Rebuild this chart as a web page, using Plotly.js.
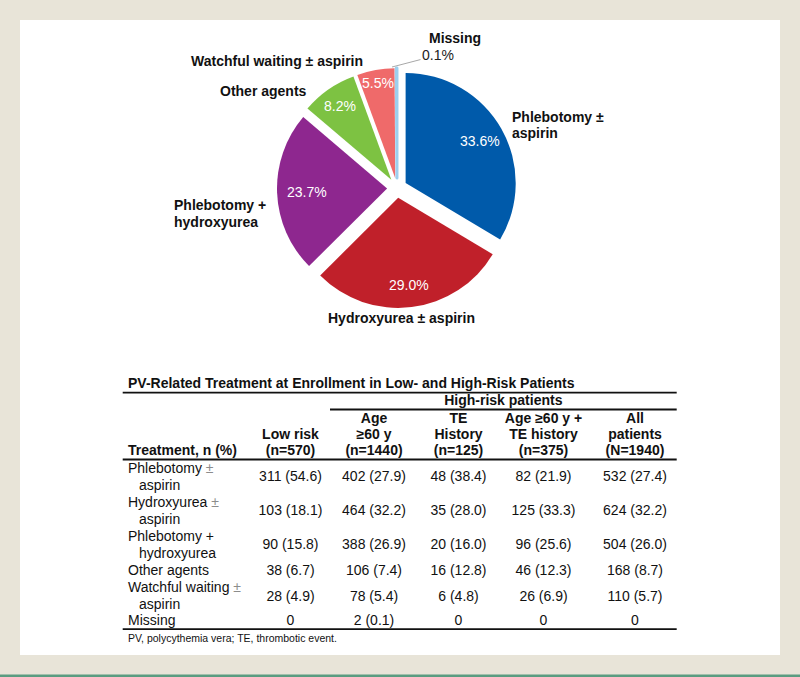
<!DOCTYPE html>
<html>
<head>
<meta charset="utf-8">
<script src="https://cdn.plot.ly/plotly-3.0.1.min.js"></script>
<style>html,body{margin:0;padding:0;background:#e8e4d8;}</style>
</head>
<body>
<div id="chart" style="width:800px;height:677px;"></div>
<script>
// ---------- DATA ----------
const pieLabels = ['Phlebotomy ±\naspirin', 'Hydroxyurea ± aspirin', 'Phlebotomy +\nhydroxyurea', 'Other agents', 'Watchful waiting ± aspirin', 'Missing'];
const piePercents = [33.6, 29.0, 23.7, 8.2, 5.5, 0.1];

const tableTitle = 'PV-Related Treatment at Enrollment in Low- and High-Risk Patients';
const groupHeader = 'High-risk patients';
const columnHeaders = ['Treatment, n (%)', 'Low risk\n(n=570)', 'Age\n≥60 y\n(n=1440)', 'TE\nHistory\n(n=125)', 'Age ≥60 y +\nTE history\n(n=375)', 'All\npatients\n(N=1940)'];
const treatments = ['Phlebotomy ±\naspirin', 'Hydroxyurea ±\naspirin', 'Phlebotomy +\nhydroxyurea', 'Other agents', 'Watchful waiting ±\naspirin', 'Missing'];
const lowRisk = ['311 (54.6)', '103 (18.1)', '90 (15.8)', '38 (6.7)', '28 (4.9)', '0'];
const age60 = ['402 (27.9)', '464 (32.2)', '388 (26.9)', '106 (7.4)', '78 (5.4)', '2 (0.1)'];
const teHistory = ['48 (38.4)', '35 (28.0)', '20 (16.0)', '16 (12.8)', '6 (4.8)', '0'];
const age60Te = ['82 (21.9)', '125 (33.3)', '96 (25.6)', '46 (12.3)', '26 (6.9)', '0'];
const allPatients = ['532 (27.4)', '624 (32.2)', '504 (26.0)', '168 (8.7)', '110 (5.7)', '0'];
const footnote = 'PV, polycythemia vera; TE, thrombotic event.';

// ---------- STYLE / LAYOUT ----------
const FONT = 'Liberation Sans, Arial, Helvetica, sans-serif';
const TXT = '#111111';
const pieColors = ['#005aaa', '#c0202a', '#8e278f', '#7dc242', '#ef6a6a', '#9dcfee'];

const W = 800, H = 677;
// pie box in pixels
const pieBox = {x0: 277, x1: 517, y0: 68, y1: 308};
const PULL = 0.09;
// radial position (fraction of radius) of the inside percentage labels
const pctRadius = [0.78, 0.8, 0.73, 0.82, 0.88];

// pie label placement (pixel coords of the figure) and anchors
const pieLabelPos = [
  {x: 510, y: 125, anchor: 'left'},
  {x: 401, y: 318, anchor: 'center'},
  {x: 172, y: 213.5, anchor: 'left'},
  {x: 309, y: 91, anchor: 'right'},
  {x: 365, y: 61, anchor: 'right'},
  {x: 427, y: 37.5, anchor: 'left'}
];

// table geometry
const colX = [128, 290.5, 374, 458.5, 543.5, 635];
const rowY = [477.5, 511.7, 545.8, 571, 597, 621.7];
const lineGap = 17;
const headerBottom = 451.7, headerGap = 16.3;
const ruleX0 = 122.7, ruleX1 = 676.7;

const annotations = [];
// pie outside labels (split into lines)
pieLabels.forEach((lab, i) => {
  const lines = lab.split('\n');
  const p = pieLabelPos[i];
  lines.forEach((ln, k) => {
    annotations.push({
      xref: 'x', yref: 'y', x: p.x, y: p.y + (k - (lines.length - 1) / 2) * 16.3,
      text: '<b>' + ln + '</b>', showarrow: false,
      xanchor: p.anchor, yanchor: 'middle',
      font: {family: FONT, size: 14, color: TXT}
    });
  });
});

// inside percentage labels, placed from the pie geometry Plotly uses
const cx = (pieBox.x0 + pieBox.x1) / 2, cy = (pieBox.y0 + pieBox.y1) / 2;
const R = Math.min(pieBox.x1 - pieBox.x0, pieBox.y1 - pieBox.y0) / (2 + 2 * PULL);
const total = piePercents.reduce((a, b) => a + b, 0);
let cum = 0;
piePercents.forEach((v, i) => {
  const mid = (cum + v / 2) / total * 2 * Math.PI;
  cum += v;
  if (i === 5) return;
  const dx = Math.sin(mid), dy = -Math.cos(mid);
  const r = PULL * R + pctRadius[i] * R;
  annotations.push({
    xref: 'x', yref: 'y', x: cx + r * dx, y: cy + r * dy,
    text: v.toFixed(1) + '%', showarrow: false,
    xanchor: 'center', yanchor: 'middle',
    font: {family: FONT, size: 14, color: '#ffffff'}
  });
});

// missing percent with leader line
annotations.push({
  xref: 'x', yref: 'y', x: 392, y: 67,
  text: piePercents[5].toFixed(1) + '%', showarrow: true, arrowhead: 0,
  arrowwidth: 1, arrowcolor: '#a8a8a8', ax: 46, ay: -12, standoff: 0,
  font: {family: FONT, size: 14, color: '#222'}
});

// ---------- TABLE TEXT via scatter text on hidden px axes ----------
function grayPm(s) { return s.replace('±', '<span style="color:#8c8c8c">±</span>'); }

const leftReg = {x: [], y: [], text: []};
const centerReg = {x: [], y: [], text: []};
const leftBold = {x: [], y: [], text: []};
const centerBold = {x: [], y: [], text: []};

leftBold.x.push(colX[0]); leftBold.y.push(384); leftBold.text.push('<b>' + tableTitle + '</b>');
centerBold.x.push((330 + ruleX1) / 2); centerBold.y.push(401.7); centerBold.text.push('<b>' + groupHeader + '</b>');
columnHeaders.forEach((h, c) => {
  const lines = h.split('\n');
  lines.forEach((ln, k) => {
    const y = headerBottom - (lines.length - 1 - k) * headerGap;
    const tgt = c === 0 ? leftBold : centerBold;
    tgt.x.push(colX[c]); tgt.y.push(y); tgt.text.push('<b>' + ln + '</b>');
  });
});
const cols = [lowRisk, age60, teHistory, age60Te, allPatients];
treatments.forEach((t, r) => {
  const lines = t.split('\n');
  lines.forEach((ln, k) => {
    const y = rowY[r] + (k - (lines.length - 1) / 2) * lineGap;
    leftReg.x.push(colX[0] + (k > 0 ? 11 : 0)); leftReg.y.push(y); leftReg.text.push(grayPm(ln));
  });
  cols.forEach((col, c) => {
    centerReg.x.push(colX[c + 1]); centerReg.y.push(rowY[r]); centerReg.text.push(col[r]);
  });
});
leftReg.x.push(colX[0]); leftReg.y.push(638.3); leftReg.text.push('<span style="font-size:10.5px">' + footnote + '</span>');

function textTrace(d, pos) {
  return {
    type: 'scatter', mode: 'text', x: d.x, y: d.y, text: d.text,
    textposition: pos, hoverinfo: 'skip', showlegend: false,
    textfont: {family: FONT, size: 14, color: TXT},
    xaxis: 'x', yaxis: 'y'
  };
}

const pieTrace = {
  type: 'pie',
  values: piePercents,
  labels: pieLabels,
  sort: false,
  direction: 'clockwise',
  rotation: 0,
  pull: piePercents.map(() => PULL),
  marker: {colors: pieColors, line: {color: pieColors, width: piePercents.map((v, i) => i === 5 ? 3 : 0)}},
  textinfo: 'none',
  hoverinfo: 'skip',
  showlegend: false,
  domain: {x: [pieBox.x0 / W, pieBox.x1 / W], y: [1 - pieBox.y1 / H, 1 - pieBox.y0 / H]}
};

const shapes = [
  {type: 'rect', xref: 'x', yref: 'y', x0: 20, x1: 780, y0: 20, y1: 655, fillcolor: '#ffffff', line: {width: 0}, layer: 'below'},
  {type: 'rect', xref: 'x', yref: 'y', x0: 0, x1: 800, y0: 674.5, y1: 677, fillcolor: '#5a9c80', line: {width: 0}, layer: 'below'},
  {type: 'line', xref: 'x', yref: 'y', x0: ruleX0, x1: ruleX1, y0: 392.7, y1: 392.7, line: {color: '#111', width: 1.8}},
  {type: 'line', xref: 'x', yref: 'y', x0: 330, x1: ruleX1, y0: 409.5, y1: 409.5, line: {color: '#111', width: 1.8}},
  {type: 'line', xref: 'x', yref: 'y', x0: ruleX0, x1: ruleX1, y0: 459.5, y1: 459.5, line: {color: '#111', width: 1.8}},
  {type: 'line', xref: 'x', yref: 'y', x0: ruleX0, x1: ruleX1, y0: 629.2, y1: 629.2, line: {color: '#111', width: 1.8}}
];

const layout = {
  width: W, height: H,
  margin: {l: 0, r: 0, t: 0, b: 0, pad: 0},
  paper_bgcolor: '#e8e4d8',
  plot_bgcolor: 'rgba(0,0,0,0)',
  xaxis: {range: [0, W], visible: false, fixedrange: true, domain: [0, 1]},
  yaxis: {range: [H, 0], visible: false, fixedrange: true, domain: [0, 1]},
  showlegend: false,
  shapes: shapes,
  annotations: annotations,
  font: {family: FONT, color: TXT}
};

Plotly.newPlot('chart', [
  textTrace(leftReg, 'middle right'),
  textTrace(centerReg, 'middle center'),
  textTrace(leftBold, 'middle right'),
  textTrace(centerBold, 'middle center'),
  pieTrace
], layout, {staticPlot: true, displayModeBar: false});
</script>
</body>
</html>
